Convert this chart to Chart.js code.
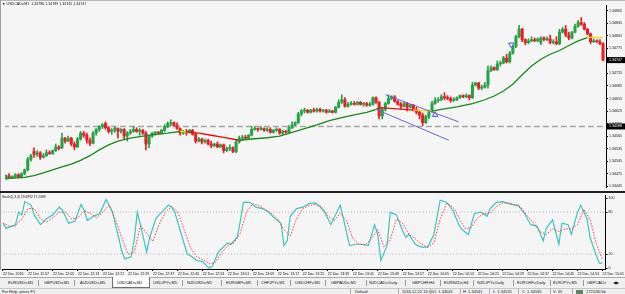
<!DOCTYPE html>
<html>
<head>
<meta charset="utf-8">
<script src="https://cdn.jsdelivr.net/npm/chart.js@4.4.1/dist/chart.umd.min.js"></script>
<style>
html, body { margin: 0; padding: 0; }
body { width: 625px; height: 294px; position: relative; overflow: hidden; background: #f0f0f0; font-family: "Liberation Sans", Arial, sans-serif; color: #111; }
canvas { position: absolute; left: 0; background: #f5f5f5; }
#main { top: 0; }
#stoch { top: 192px; }
.t { position: absolute; white-space: nowrap; transform-origin: 0 0; transform: scale(0.5); font-size: 8px; line-height: 1; }
.ln { position: absolute; }
.sep { position: absolute; top: 280px; width: 1px; height: 6px; background: #9a9a9a; }
.ssep { position: absolute; top: 289px; width: 1px; height: 5px; background: #b0b0b0; }
</style>
</head>
<body>
<canvas id="main" width="625" height="192"></canvas>
<canvas id="stoch" width="625" height="86"></canvas>

<!-- window frame -->
<div class="ln" style="left:0;top:0;width:625px;height:1px;background:#b8b8b8"></div>
<div class="ln" style="left:0;top:0;width:1px;height:270px;background:#a0a0a0"></div>
<div class="ln" style="left:0;top:191px;width:625px;height:2px;background:#222"></div>

<div class="t" style="left:2px;top:2px;font-size:7.2px">&#9660; USDCADv,M1&nbsp; 1.34786 1.34789 1.34745 1.34747</div>
<div class="t" style="left:2px;top:195px;font-size:6.6px">Stoch(5,3,3) 23.6992 17.2489</div>

<!-- tab row -->
<div class="ln" style="left:0;top:277px;width:625px;height:11px;background:#f0f0f0;border-top:1px solid #a8a8a8"></div>
<div class="ln" style="left:112px;top:277px;width:36px;height:10px;background:#fff;border:1px solid #707070;border-top:none"></div>
<div class="t" style="left:8px;top:281px">EURUSDv,M1</div>
<div class="sep" style="left:38px"></div>
<div class="t" style="left:44px;top:281px">GBPUSDv,M1</div>
<div class="sep" style="left:74px"></div>
<div class="t" style="left:80px;top:281px">AUDUSDv,M5</div>
<div class="t" style="left:117px;top:281px">USDCADv,M1</div>
<div class="t" style="left:153px;top:281px">USDJPYv,M5</div>
<div class="sep" style="left:182px"></div>
<div class="t" style="left:187px;top:281px">NZDUSDv,M1</div>
<div class="sep" style="left:221px"></div>
<div class="t" style="left:226px;top:281px">EURGBPv,M5</div>
<div class="sep" style="left:257px"></div>
<div class="t" style="left:261px;top:281px">CHFJPYv,M1</div>
<div class="sep" style="left:290px"></div>
<div class="t" style="left:295px;top:281px">USDCHFv,M5</div>
<div class="sep" style="left:325px"></div>
<div class="t" style="left:331px;top:281px">GBPAUDv,M1</div>
<div class="sep" style="left:366px"></div>
<div class="t" style="left:369px;top:281px">NZDCADv,Daily</div>
<div class="sep" style="left:405px"></div>
<div class="t" style="left:412px;top:281px">GBPCHF,H4</div>
<div class="sep" style="left:440px"></div>
<div class="t" style="left:444px;top:281px">EURNZDv,H4</div>
<div class="sep" style="left:473px"></div>
<div class="t" style="left:477px;top:281px">NZDJPYv,Daily</div>
<div class="sep" style="left:513px"></div>
<div class="t" style="left:517px;top:281px">EURCHFv,Daily</div>
<div class="sep" style="left:550px"></div>
<div class="t" style="left:553px;top:281px">EURJPYv,M5</div>
<div class="sep" style="left:583px"></div>
<div class="t" style="left:587px;top:281px">GBPCADv</div>
<div class="t" style="left:613px;top:281px">&#9664;&#9654;</div>

<!-- status bar -->
<div class="ln" style="left:0;top:288px;width:625px;height:6px;background:#f0f0f0;border-top:1px solid #c8c8c8"></div>
<div class="t" style="left:2px;top:290px">For Help, press F1</div>
<div class="ssep" style="left:350px"></div>
<div class="t" style="left:355px;top:290px">Default</div>
<div class="ssep" style="left:398px"></div>
<div class="t" style="left:402px;top:290px">2016.12.22 13:00</div>
<div class="ssep" style="left:430px"></div>
<div class="t" style="left:433px;top:290px">O: 1.34541</div>
<div class="ssep" style="left:460px"></div>
<div class="t" style="left:463px;top:290px">H: 1.34541</div>
<div class="ssep" style="left:489px"></div>
<div class="t" style="left:493px;top:290px">L: 1.34531</div>
<div class="ssep" style="left:518px"></div>
<div class="t" style="left:522px;top:290px">C: 1.34535</div>
<div class="ssep" style="left:550px"></div>
<div class="t" style="left:553px;top:290px">V: 45</div>
<div class="ssep" style="left:572px"></div>
<div class="ln" style="left:576px;top:290px;width:7px;height:4px;background:#5a8a5a"></div>
<div class="t" style="left:586px;top:290px">1721/30 kb</div>

<script>
// USDCADv M1 candles, bar 0 = 11:49
const opens = [1.34465,1.34470,1.34465,1.34468,1.34472,1.34468,1.34475,1.34484,1.34509,1.34528,
1.34521,1.34525,1.34514,1.34518,1.34525,1.34523,1.34530,1.34539,1.34537,1.34560,
1.34553,1.34560,1.34546,1.34539,1.34558,1.34572,1.34567,1.34555,1.34548,1.34572,
1.34581,1.34588,1.34595,1.34585,1.34576,1.34579,1.34583,1.34576,1.34581,1.34565,
1.34572,1.34576,1.34581,1.34576,1.34579,1.34572,1.34546,1.34565,1.34572,1.34574,
1.34572,1.34579,1.34588,1.34595,1.34597,1.34590,1.34583,1.34572,1.34576,1.34574,
1.34579,1.34569,1.34553,1.34558,1.34551,1.34555,1.34546,1.34542,1.34546,1.34539,
1.34544,1.34530,1.34535,1.34537,1.34528,1.34551,1.34560,1.34562,1.34560,1.34567,
1.34581,1.34583,1.34581,1.34583,1.34579,1.34581,1.34574,1.34579,1.34581,1.34572,
1.34576,1.34574,1.34585,1.34592,1.34597,1.34618,1.34625,1.34627,1.34622,1.34627,
1.34625,1.34629,1.34625,1.34627,1.34622,1.34625,1.34622,1.34634,1.34646,1.34652,
1.34636,1.34641,1.34643,1.34641,1.34646,1.34641,1.34643,1.34639,1.34641,1.34657,
1.34646,1.34613,1.34629,1.34643,1.34655,1.34659,1.34648,1.34641,1.34636,1.34643,
1.34634,1.34639,1.34629,1.34622,1.34615,1.34597,1.34611,1.34625,1.34643,1.34650,
1.34652,1.34659,1.34657,1.34655,1.34650,1.34652,1.34657,1.34662,1.34659,1.34662,
1.34657,1.34687,1.34692,1.34680,1.34682,1.34687,1.34722,1.34729,1.34724,1.34738,
1.34740,1.34752,1.34743,1.34763,1.34780,1.34803,1.34821,1.34796,1.34789,1.34793,
1.34796,1.34793,1.34789,1.34800,1.34796,1.34798,1.34789,1.34791,1.34786,1.34814,
1.34821,1.34807,1.34800,1.34814,1.34828,1.34837,1.34833,1.34821,1.34810,1.34791,
1.34793,1.34791,1.34786];
const closes = [1.34470,1.34465,1.34468,1.34472,1.34468,1.34475,1.34484,1.34509,1.34518,1.34521,
1.34525,1.34514,1.34518,1.34525,1.34523,1.34530,1.34539,1.34535,1.34560,1.34553,
1.34560,1.34546,1.34539,1.34558,1.34572,1.34567,1.34555,1.34548,1.34572,1.34581,
1.34588,1.34592,1.34585,1.34576,1.34579,1.34583,1.34576,1.34581,1.34565,1.34572,
1.34576,1.34581,1.34576,1.34579,1.34572,1.34546,1.34565,1.34572,1.34574,1.34572,
1.34579,1.34588,1.34595,1.34597,1.34590,1.34583,1.34572,1.34576,1.34574,1.34579,
1.34569,1.34553,1.34558,1.34551,1.34555,1.34546,1.34542,1.34546,1.34539,1.34544,
1.34530,1.34535,1.34537,1.34528,1.34551,1.34560,1.34562,1.34560,1.34567,1.34581,
1.34583,1.34581,1.34583,1.34579,1.34581,1.34574,1.34579,1.34581,1.34572,1.34576,
1.34574,1.34585,1.34592,1.34597,1.34618,1.34625,1.34627,1.34622,1.34627,1.34625,
1.34629,1.34625,1.34627,1.34622,1.34625,1.34622,1.34634,1.34646,1.34652,1.34636,
1.34641,1.34643,1.34641,1.34646,1.34641,1.34643,1.34639,1.34641,1.34657,1.34646,
1.34613,1.34629,1.34643,1.34655,1.34659,1.34648,1.34641,1.34636,1.34643,1.34634,
1.34639,1.34629,1.34622,1.34615,1.34597,1.34611,1.34625,1.34643,1.34650,1.34652,
1.34659,1.34657,1.34655,1.34650,1.34652,1.34657,1.34662,1.34659,1.34662,1.34657,
1.34687,1.34692,1.34680,1.34682,1.34687,1.34722,1.34729,1.34724,1.34738,1.34740,
1.34752,1.34743,1.34763,1.34780,1.34803,1.34821,1.34796,1.34789,1.34793,1.34796,
1.34793,1.34798,1.34800,1.34796,1.34798,1.34789,1.34791,1.34786,1.34814,1.34821,
1.34807,1.34800,1.34814,1.34828,1.34837,1.34833,1.34821,1.34810,1.34791,1.34793,
1.34791,1.34786,1.34747];
const highs = [1.34472,1.34475,1.34470,1.34475,1.34475,1.34477,1.34486,1.34514,1.34521,1.34537,
1.34530,1.34528,1.34523,1.34532,1.34530,1.34532,1.34546,1.34542,1.34572,1.34562,
1.34565,1.34562,1.34551,1.34562,1.34576,1.34576,1.34572,1.34560,1.34576,1.34583,
1.34590,1.34595,1.34599,1.34588,1.34583,1.34588,1.34585,1.34583,1.34583,1.34576,
1.34581,1.34588,1.34585,1.34583,1.34581,1.34576,1.34567,1.34574,1.34576,1.34576,
1.34581,1.34592,1.34599,1.34604,1.34599,1.34597,1.34585,1.34579,1.34581,1.34581,
1.34581,1.34572,1.34562,1.34560,1.34558,1.34558,1.34553,1.34548,1.34551,1.34546,
1.34546,1.34539,1.34544,1.34539,1.34555,1.34565,1.34567,1.34567,1.34569,1.34588,
1.34588,1.34585,1.34588,1.34585,1.34585,1.34585,1.34581,1.34585,1.34583,1.34579,
1.34579,1.34590,1.34599,1.34599,1.34622,1.34629,1.34632,1.34629,1.34629,1.34632,
1.34632,1.34632,1.34629,1.34629,1.34629,1.34627,1.34636,1.34652,1.34664,1.34657,
1.34646,1.34648,1.34648,1.34648,1.34648,1.34646,1.34646,1.34646,1.34659,1.34659,
1.34648,1.34634,1.34646,1.34664,1.34662,1.34662,1.34650,1.34646,1.34646,1.34646,
1.34641,1.34641,1.34634,1.34625,1.34620,1.34615,1.34627,1.34648,1.34657,1.34657,
1.34664,1.34669,1.34662,1.34659,1.34657,1.34659,1.34664,1.34664,1.34666,1.34664,
1.34694,1.34694,1.34694,1.34687,1.34694,1.34733,1.34733,1.34731,1.34745,1.34745,
1.34756,1.34761,1.34768,1.34784,1.34807,1.34830,1.34823,1.34798,1.34798,1.34803,
1.34800,1.34800,1.34803,1.34803,1.34803,1.34807,1.34796,1.34803,1.34821,1.34826,
1.34830,1.34814,1.34816,1.34833,1.34842,1.34849,1.34837,1.34823,1.34812,1.34798,
1.34796,1.34796,1.34789];
const lows = [1.34461,1.34463,1.34463,1.34465,1.34465,1.34465,1.34472,1.34481,1.34505,1.34514,
1.34516,1.34509,1.34512,1.34516,1.34521,1.34521,1.34528,1.34532,1.34535,1.34548,
1.34551,1.34542,1.34532,1.34537,1.34555,1.34562,1.34548,1.34542,1.34546,1.34567,
1.34576,1.34583,1.34581,1.34572,1.34569,1.34574,1.34560,1.34572,1.34558,1.34553,
1.34569,1.34574,1.34574,1.34567,1.34569,1.34532,1.34537,1.34562,1.34567,1.34569,
1.34569,1.34576,1.34585,1.34590,1.34588,1.34581,1.34567,1.34569,1.34567,1.34572,
1.34567,1.34548,1.34551,1.34546,1.34548,1.34544,1.34537,1.34539,1.34537,1.34537,
1.34525,1.34528,1.34530,1.34525,1.34525,1.34548,1.34555,1.34558,1.34558,1.34565,
1.34579,1.34576,1.34579,1.34576,1.34576,1.34572,1.34572,1.34576,1.34569,1.34569,
1.34572,1.34572,1.34583,1.34590,1.34595,1.34613,1.34620,1.34620,1.34620,1.34622,
1.34622,1.34622,1.34622,1.34620,1.34622,1.34620,1.34620,1.34632,1.34643,1.34634,
1.34634,1.34639,1.34639,1.34639,1.34639,1.34636,1.34636,1.34636,1.34639,1.34643,
1.34606,1.34606,1.34625,1.34641,1.34652,1.34646,1.34639,1.34629,1.34634,1.34625,
1.34632,1.34625,1.34618,1.34606,1.34590,1.34595,1.34606,1.34622,1.34641,1.34646,
1.34650,1.34652,1.34652,1.34646,1.34648,1.34650,1.34655,1.34657,1.34657,1.34652,
1.34655,1.34685,1.34676,1.34676,1.34680,1.34680,1.34719,1.34722,1.34722,1.34733,
1.34738,1.34740,1.34740,1.34761,1.34777,1.34800,1.34791,1.34784,1.34786,1.34791,
1.34791,1.34791,1.34784,1.34793,1.34793,1.34786,1.34786,1.34784,1.34784,1.34812,
1.34803,1.34796,1.34798,1.34812,1.34826,1.34830,1.34819,1.34807,1.34786,1.34789,
1.34789,1.34784,1.34745];

// moving average (bar index -> value)
const maBars = [0,6,9,12,15,18,21,24,27,30,33,36,40,44,48,52,56,58,62,66,70,75,79,84,88,92,96,100,104,108,112,116,119,120,126,131,137,140,145,150,154,157,160,163,166,169,172,175,178,181,184,187,189,192];
const maValues = [1.34463,1.34466,1.34470,1.34477,1.34484,1.34491,1.34498,1.34507,1.34518,1.34532,1.34544,1.34553,1.34560,1.34565,1.34569,1.34572,1.34576,1.34575,1.34572,1.34567,1.34562,1.34555,1.34558,1.34561,1.34565,1.34574,1.34583,1.34592,1.34602,1.34609,1.34616,1.34622,1.34629,1.34633,1.34630,1.34627,1.34625,1.34629,1.34635,1.34643,1.34652,1.34661,1.34673,1.34689,1.34712,1.34733,1.34749,1.34761,1.34770,1.34782,1.34793,1.34801,1.34802,1.34801];

// chart objects
const hLinePrice = 1.34588;
const channelUpperBars = [122, 145.6];
const channelUpperPrices = [1.34664, 1.34599];
const channelLowerBars = [119, 142.4];
const channelLowerPrices = [1.34629, 1.34555];
const arrowBars = [138, 162.5];
const arrowPrices = [1.34616, 1.34784];
const arrowRotation = [0, 180];

// stochastic %K and %D
const kBars = [0,1,3,4,5,6,7,9,10,12,14,16,18,19,21,23,25,26,27,29,31,33,35,37,38,39,41,42,43,44,46,47,49,50,53,54,55,57,59,60,62,64,65,66,67,69,71,72,73,75,76,77,79,81,83,85,87,89,90,91,92,94,96,98,100,101,103,105,108,109,111,113,115,117,119,120,121,123,124,126,128,129,130,132,134,136,138,140,142,144,146,147,149,151,153,155,156,158,160,162,164,165,167,169,171,173,174,176,178,179,181,182,184,185,187,188,190,191,192];
const kValues = [64,57,60,62,80,76,95,90,76,62,71,76,87,83,64,67,91,83,68,74,78,98,81,44,25,13,16,39,80,62,23,44,71,76,90,87,80,50,20,18,11,9,4,0,2,23,32,36,34,44,67,94,94,87,85,80,71,64,32,39,74,85,87,92,93,90,80,62,90,71,32,34,34,32,62,48,11,32,80,76,53,44,48,34,30,30,48,97,94,83,62,55,48,78,80,74,85,94,95,92,90,90,78,62,60,39,57,69,34,64,62,48,80,90,71,44,18,7,7];
const dBars = [0,2,4,6,8,10,12,14,16,18,20,22,24,26,28,30,32,34,36,38,40,42,44,46,48,50,52,54,56,58,60,62,64,66,68,70,72,74,76,78,80,82,84,86,88,90,92,94,96,98,100,102,104,106,108,110,112,114,116,118,120,122,124,126,128,130,132,134,136,138,140,142,144,146,148,150,152,154,156,158,160,162,164,166,168,170,172,174,176,178,180,182,184,186,188,190,192];
const dValues = [64,60,60,70,85,85,70,66,72,80,80,70,72,82,78,72,80,90,70,44,20,22,60,50,38,62,80,88,80,55,30,16,12,6,8,22,32,36,50,80,92,89,84,78,70,55,46,70,85,89,91,88,75,68,78,68,42,34,33,42,55,30,40,70,64,48,42,34,30,36,70,92,88,72,56,58,72,78,78,88,93,93,90,86,74,64,52,48,56,52,56,56,62,84,70,35,12];
const stochLevels = [20, 80];

// axes
const priceTicks = [1.34445,1.34475,1.34505,1.34535,1.34565,1.34595,1.34625,1.34655,1.34685,1.34715,1.34745,1.34775,1.34805,1.34835,1.34865];
const stochTicks = [0, 20, 80, 100];
const labelBars = [0,8,16,24,32,40,48,56,64,72,80,88,96,104,112,120,128,136,144,152,160,168,176,184,192];
const timeLabels = ['22 Dec 2016','22 Dec 11:57','22 Dec 12:05','22 Dec 12:13','22 Dec 12:21','22 Dec 12:29','22 Dec 12:37','22 Dec 12:45','22 Dec 12:53','22 Dec 13:01','22 Dec 13:09','22 Dec 13:17','22 Dec 13:25','22 Dec 13:33','22 Dec 13:41','22 Dec 13:49','22 Dec 13:57','22 Dec 14:05','22 Dec 14:13','22 Dec 14:21','22 Dec 14:29','22 Dec 14:37','22 Dec 14:45','22 Dec 14:53','22 Dec 15:01'];

const BULL = '#24a345';
const BEAR = '#ec1c24';
const tickFont = { size: 3.6, family: 'Liberation Sans' };
const xRange = { min: -0.32, max: 192.96 };

const candleColor = ctx => closes[ctx.dataIndex] >= opens[ctx.dataIndex] ? BULL : BEAR;
const pairs = (xs, ys) => xs.map((x, i) => ({ x, y: ys[i] }));

const tagPrices = [closes[closes.length - 1], hLinePrice];
const priceTags = {
    id: 'priceTags',
    afterDraw(chart) {
        const { ctx, scales: { y }, chartArea } = chart;
        ctx.save();
        ctx.font = '3.6px "Liberation Sans"';
        ctx.textBaseline = 'middle';
        tagPrices.forEach(p => {
            const py = y.getPixelForValue(p);
            ctx.fillStyle = '#000';
            ctx.fillRect(chartArea.right + 1, py - 3, 18, 6);
            ctx.fillStyle = '#fff';
            ctx.fillText(p.toFixed(5), chartArea.right + 3, py);
        });
        ctx.restore();
    }
};

new Chart(document.getElementById('main'), {
    type: 'bar',
    data: {
        datasets: [
            {
                type: 'line', data: [{ x: -1, y: hLinePrice }, { x: 194, y: hLinePrice }],
                borderColor: '#a6a6a6', borderWidth: 1.5, borderDash: [6, 3], pointRadius: 0, order: 6
            },
            {
                data: lows.map((l, i) => ({ x: i, y: [l, highs[i]] })),
                backgroundColor: candleColor, barThickness: 1, grouped: false, order: 4
            },
            {
                data: opens.map((o, i) => ({ x: i, y: [o, closes[i]] })),
                backgroundColor: candleColor, barThickness: 2.4, minBarLength: 1, grouped: false, order: 3
            },
            {
                type: 'line', data: pairs(maBars, maValues), borderWidth: 1.3, pointRadius: 0,
                borderColor: '#178a17',
                segment: {
                    borderColor: c => {
                        const d = c.p1.parsed.y - c.p0.parsed.y;
                        return d > 0.000025 ? '#178a17' : d < -0.000025 ? '#e01010' : '#f2e000';
                    }
                },
                order: 1
            },
            {
                type: 'line', data: pairs(channelUpperBars, channelUpperPrices),
                borderColor: '#6666dd', borderWidth: 1, pointRadius: 0, order: 0
            },
            {
                type: 'line', data: pairs(channelLowerBars, channelLowerPrices),
                borderColor: '#6666dd', borderWidth: 1, pointRadius: 0, order: 0
            },
            {
                type: 'scatter', data: pairs(arrowBars, arrowPrices),
                pointStyle: 'triangle', pointRadius: 3.2, rotation: arrowRotation,
                borderColor: '#4a5ad0', borderWidth: 1, backgroundColor: '#e8ecff', order: 0
            }
        ]
    },
    options: {
        responsive: false,
        animation: false,
        events: [],
        layout: { padding: { left: 2, top: 2, right: 0, bottom: 1 } },
        plugins: { legend: { display: false }, tooltip: { enabled: false } },
        scales: {
            x: { type: 'linear', min: xRange.min, max: xRange.max, offset: false, display: false },
            y: {
                position: 'right',
                min: 1.34443,
                max: 1.34879,
                afterFit(s) { s.width = 19; },
                afterBuildTicks(s) { s.ticks = priceTicks.map(v => ({ value: v })); },
                ticks: { font: tickFont, color: '#111', padding: 1, callback: v => v.toFixed(5) },
                grid: { drawOnChartArea: false, tickLength: 2, color: '#000' },
                border: { color: '#000', width: 1 }
            }
        }
    },
    plugins: [priceTags]
});

new Chart(document.getElementById('stoch'), {
    type: 'line',
    data: {
        datasets: [
            ...stochLevels.map(v => ({
                data: [{ x: -1, y: v }, { x: 194, y: v }],
                borderColor: '#b4b4b4', borderWidth: 1, borderDash: [1, 2], pointRadius: 0, order: 5
            })),
            {
                data: pairs(dBars, dValues), borderColor: '#ff3b3b', borderWidth: 1,
                borderDash: [1.5, 1.5], pointRadius: 0, order: 1
            },
            {
                data: pairs(kBars, kValues), borderColor: '#38c6be', borderWidth: 1.2,
                pointRadius: 0, order: 2
            }
        ]
    },
    options: {
        responsive: false,
        animation: false,
        events: [],
        layout: { padding: { left: 2, top: 1, right: 0, bottom: 0 } },
        plugins: { legend: { display: false }, tooltip: { enabled: false } },
        scales: {
            x: {
                type: 'linear', min: xRange.min, max: xRange.max, offset: false,
                afterFit(s) { s.height = 9; },
                afterBuildTicks(s) { s.ticks = labelBars.map(v => ({ value: v })); },
                ticks: {
                    autoSkip: false, maxRotation: 0, align: 'start', font: tickFont, color: '#111', padding: 1,
                    callback: (v, i) => timeLabels[i]
                },
                grid: { drawOnChartArea: false, tickLength: 2, color: '#000' },
                border: { color: '#000', width: 1 }
            },
            y: {
                position: 'right',
                min: -1.4,
                max: 104.2,
                afterFit(s) { s.width = 19; },
                afterBuildTicks(s) { s.ticks = stochTicks.map(v => ({ value: v })); },
                ticks: { font: tickFont, color: '#111', padding: 1, callback: v => String(v) },
                grid: { drawOnChartArea: false, tickLength: 2, color: '#000' },
                border: { color: '#000', width: 1 }
            }
        }
    }
});
</script>
</body>
</html>
